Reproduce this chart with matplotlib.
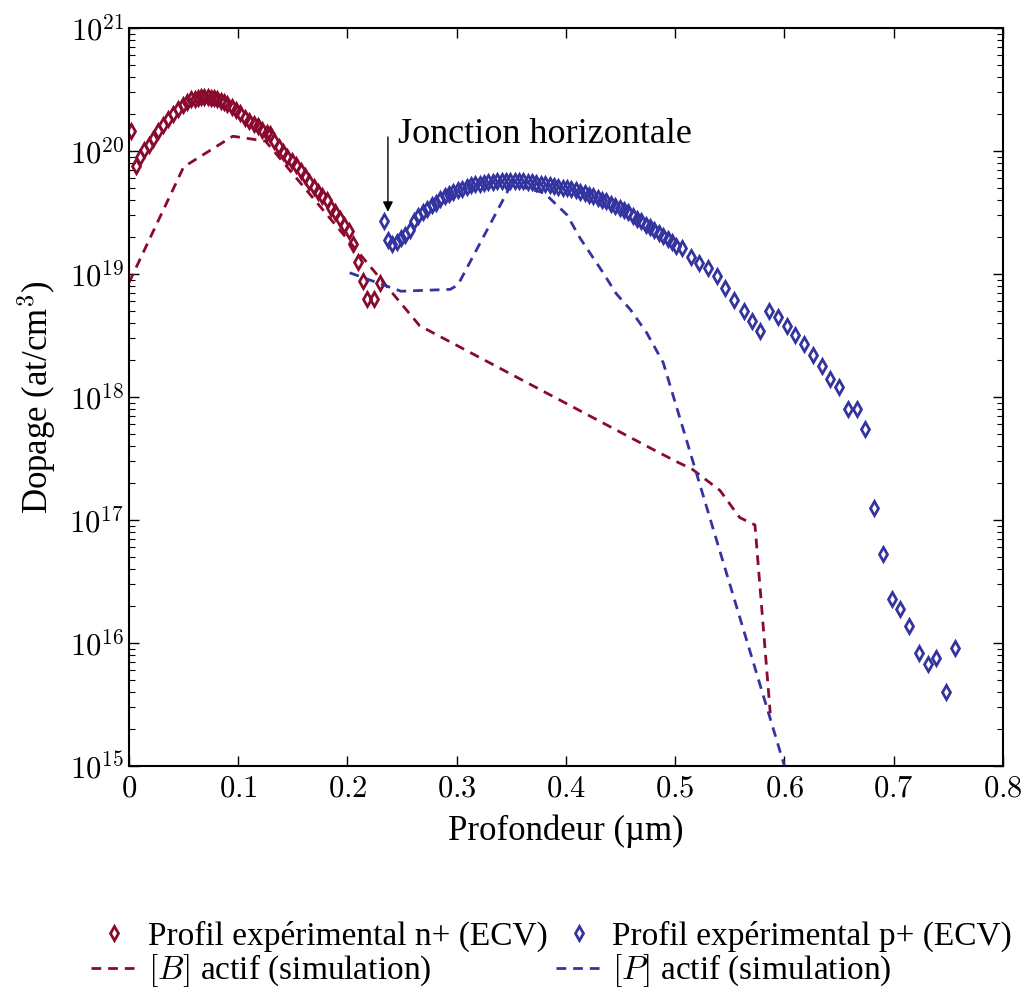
import matplotlib
matplotlib.use('Agg')
import matplotlib.pyplot as plt
from matplotlib.ticker import FuncFormatter, LogLocator, FixedLocator
import numpy as np

plt.rcParams['font.family'] = ['Liberation Serif', 'DejaVu Serif']
plt.rcParams['mathtext.fontset'] = 'cm'

rouge = '#8a0a2e'
bleu = '#3434a0'

# profil experimental n+ (ECV) : profondeur (um), log10 dopage
x_n = [0.002, 0.006, 0.010, 0.014, 0.018, 0.022, 0.027, 0.031, 0.036, 0.040,
       0.045, 0.049, 0.053, 0.057, 0.060, 0.063, 0.066, 0.069, 0.072, 0.075,
       0.078, 0.081, 0.084, 0.087, 0.090, 0.094, 0.098, 0.102, 0.106, 0.110,
       0.114, 0.118, 0.122, 0.126, 0.129, 0.133, 0.137, 0.141, 0.145, 0.149,
       0.153, 0.157, 0.161, 0.165, 0.169, 0.173, 0.177, 0.181, 0.185, 0.189,
       0.193, 0.197, 0.201, 0.205, 0.210, 0.214, 0.218, 0.224, 0.230]
log_n = [20.16, 19.88, 19.95, 20.01, 20.05, 20.10, 20.16, 20.21, 20.26, 20.30,
         20.34, 20.37, 20.40, 20.42, 20.425, 20.43, 20.435, 20.435, 20.435, 20.43,
         20.43, 20.42, 20.41, 20.40, 20.38, 20.36, 20.33, 20.31, 20.27, 20.24,
         20.22, 20.20, 20.17, 20.15, 20.14, 20.08, 20.03, 19.99, 19.95, 19.92,
         19.89, 19.84, 19.80, 19.75, 19.71, 19.67, 19.63, 19.60, 19.54, 19.50,
         19.45, 19.40, 19.35, 19.24, 19.10, 18.94, 18.80, 18.80, 18.93]

# profil experimental p+ (ECV)
x_p = [0.233, 0.237, 0.241, 0.245, 0.249, 0.253, 0.257, 0.261, 0.265, 0.269,
       0.273, 0.277, 0.281, 0.285, 0.289, 0.293, 0.297, 0.301, 0.305, 0.309,
       0.313, 0.317, 0.321, 0.325, 0.329, 0.333, 0.337, 0.341, 0.345, 0.349,
       0.353, 0.357, 0.361, 0.365, 0.369, 0.373, 0.377, 0.381, 0.385, 0.389,
       0.393, 0.397, 0.401, 0.405, 0.409, 0.413, 0.417, 0.421, 0.425, 0.429,
       0.433, 0.437, 0.441, 0.445, 0.449, 0.453, 0.457, 0.461, 0.465, 0.469,
       0.473, 0.477, 0.481, 0.485, 0.489, 0.493, 0.497, 0.501,
       0.506, 0.514, 0.522, 0.530, 0.538, 0.546, 0.554, 0.563, 0.570, 0.578,
       0.586, 0.594, 0.602, 0.610, 0.618, 0.626, 0.634, 0.642, 0.650, 0.658,
       0.666, 0.674, 0.682, 0.690, 0.698, 0.706, 0.714, 0.723, 0.731, 0.739,
       0.748, 0.756]
log_p = [19.43, 19.28, 19.24, 19.26, 19.29, 19.32, 19.36, 19.43, 19.47, 19.50,
         19.53, 19.56, 19.58, 19.61, 19.63, 19.65, 19.67, 19.68, 19.69, 19.71,
         19.72, 19.73, 19.735, 19.74, 19.745, 19.75, 19.755, 19.76, 19.76, 19.76,
         19.76, 19.76, 19.755, 19.75, 19.745, 19.74, 19.735, 19.73, 19.72, 19.715,
         19.71, 19.70, 19.695, 19.69, 19.68, 19.67, 19.655, 19.64, 19.63, 19.615,
         19.60, 19.59, 19.57, 19.555, 19.54, 19.52, 19.50, 19.475, 19.45, 19.43,
         19.40, 19.38, 19.36, 19.33, 19.31, 19.285, 19.26, 19.23,
         19.21, 19.14, 19.09, 19.05, 18.98, 18.89, 18.79, 18.70, 18.62, 18.54,
         18.70, 18.65, 18.58, 18.50, 18.43, 18.34, 18.25, 18.15, 18.08, 17.90,
         17.90, 17.74, 17.10, 16.72, 16.36, 16.28, 16.14, 15.92, 15.83, 15.88,
         15.60, 15.96]

# [B] actif (simulation)
x_b = [0.0, 0.05, 0.095, 0.125, 0.266, 0.474, 0.500, 0.516, 0.541, 0.559, 0.573, 0.587]
log_b = [18.93, 19.87, 20.12, 20.08, 18.58, 17.60, 17.48, 17.41, 17.24, 17.02, 16.96, 15.43]

# [P] actif (simulation)
x_ph = [0.202, 0.249, 0.294, 0.301, 0.350, 0.380, 0.401, 0.413, 0.434, 0.446,
        0.459, 0.474, 0.489, 0.600]
log_ph = [19.01, 18.86, 18.875, 18.91, 19.73, 19.66, 19.48, 19.29, 19.01, 18.84,
          18.71, 18.52, 18.28, 15.0]

fig = plt.figure(figsize=(10.23, 9.92), dpi=100)
ax = fig.add_axes([0.1261, 0.2278, 0.8543, 0.744])

ax.plot(x_n, 10 ** np.array(log_n), linestyle='none', marker='d', markersize=7.5,
        markerfacecolor='none', markeredgecolor=rouge, markeredgewidth=2,
        label='Profil expérimental n+ (ECV)')
ax.plot(x_b, 10 ** np.array(log_b), color=rouge, linestyle=(0, (3.5, 2.5)), linewidth=2,
        label=r'$[B]$ actif (simulation)')
ax.plot(x_p, 10 ** np.array(log_p), linestyle='none', marker='d', markersize=7.5,
        markerfacecolor='none', markeredgecolor=bleu, markeredgewidth=2,
        label='Profil expérimental p+ (ECV)')
ax.plot(x_ph, 10 ** np.array(log_ph), color=bleu, linestyle=(0, (3.5, 2.5)), linewidth=2,
        label=r'$[P]$ actif (simulation)')

ax.set_yscale('log')
ax.set_xlim(0, 0.8)
ax.set_ylim(1e15, 1e21)
ax.xaxis.set_major_locator(FixedLocator(np.arange(0, 0.81, 0.1)))
ax.xaxis.set_major_formatter(FuncFormatter(lambda v, p: '$%g$' % round(v, 1)))
ax.yaxis.set_major_locator(LogLocator(base=10, numticks=10))
ax.yaxis.set_minor_locator(LogLocator(base=10, subs=np.arange(2, 10), numticks=100))
ax.yaxis.set_major_formatter(FuncFormatter(lambda v, p: '$10^{%d}$' % round(np.log10(v))))
ax.tick_params(which='both', direction='in', top=True, right=True, labelsize=22)
ax.tick_params(which='major', length=7, width=1)
ax.tick_params(which='minor', length=4, width=0.8)
ax.tick_params(axis='x', pad=6)
for s in ax.spines.values():
    s.set_linewidth(1.5)

ax.set_xlabel('Profondeur (µm)', fontsize=25, labelpad=8)
ax.set_ylabel(r'Dopage (at/cm$^3$)', fontsize=25, labelpad=8)

# fleche verticale + texte
ax.annotate('', xy=(0.237, 3.2e19), xytext=(0.237, 1.3e20),
            arrowprops=dict(arrowstyle='-|>', color='black', lw=1, mutation_scale=15,
                            shrinkA=0, shrinkB=0))
ax.text(0.246, 1.35e20, 'Jonction horizontale', fontsize=26, ha='left', va='center')

fig.legend(loc='upper left', bbox_to_anchor=(0.089, 0.072), ncol=2, frameon=False,
           fontsize=24, numpoints=1, handlelength=1.4, handletextpad=0.3,
           columnspacing=0.25, labelspacing=0.02, borderaxespad=0, borderpad=0)

fig.savefig('out.png', dpi=100)
